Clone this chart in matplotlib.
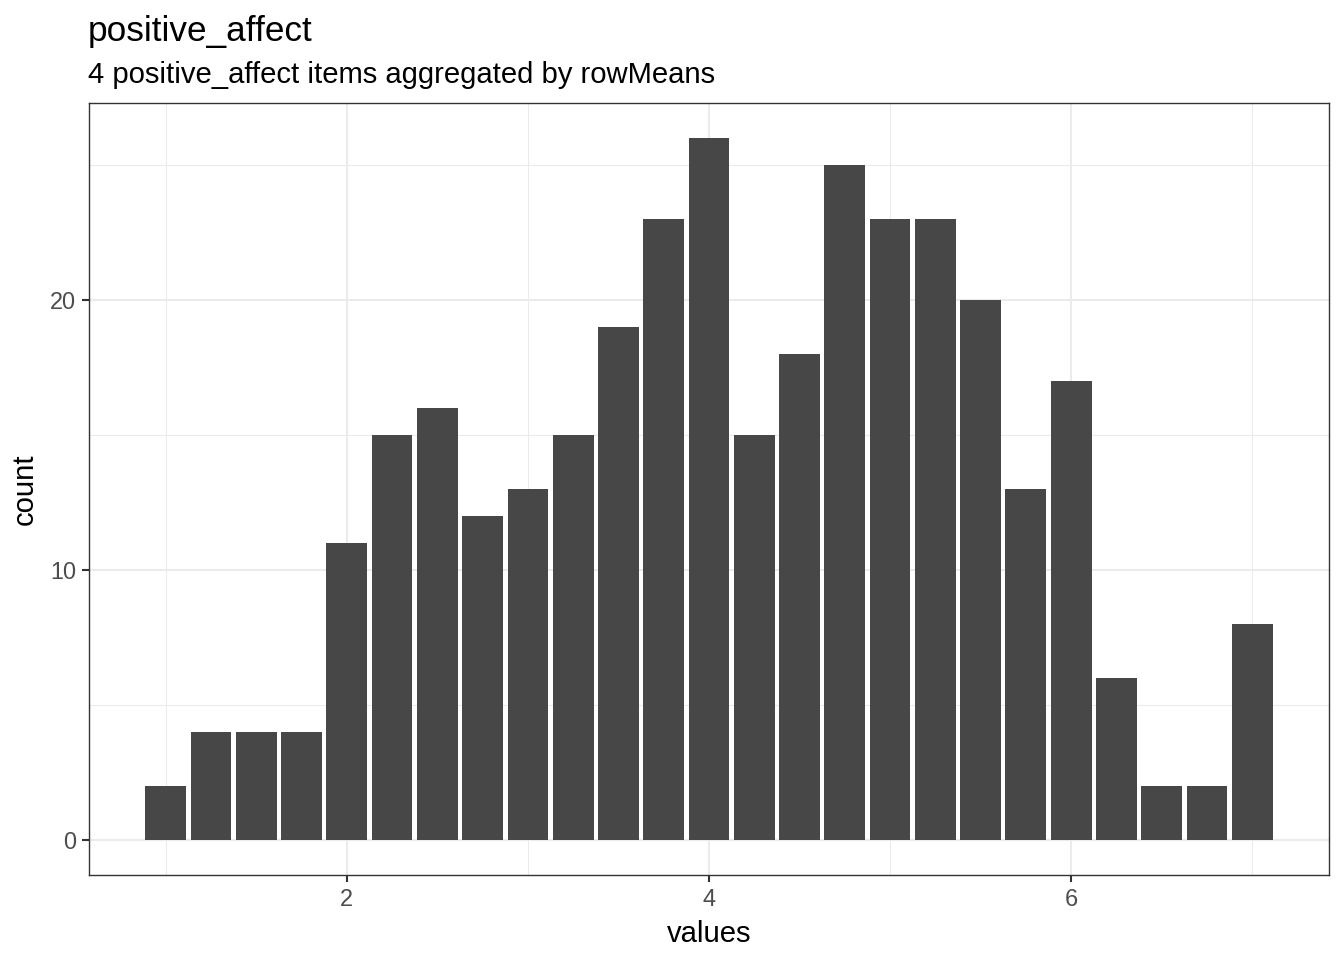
import matplotlib
matplotlib.use("Agg")
import matplotlib.pyplot as plt
from matplotlib.ticker import MultipleLocator

plt.rcParams['font.family'] = ['Liberation Sans', 'DejaVu Sans']

# rowMeans of 4 items -> steps of 0.25
values = [1.0, 1.25, 1.5, 1.75, 2.0, 2.25, 2.5, 2.75, 3.0, 3.25, 3.5, 3.75, 4.0,
          4.25, 4.5, 4.75, 5.0, 5.25, 5.5, 5.75, 6.0, 6.25, 6.5, 6.75, 7.0]
counts = [2, 4, 4, 4, 11, 15, 16, 12, 13, 15, 19, 23, 26,
          15, 18, 25, 23, 23, 20, 13, 17, 6, 2, 2, 8]

fig = plt.figure(figsize=(13.44, 9.6), dpi=100)
ax = fig.add_axes([0.0662, 0.0885, 0.9226, 0.8042])

ax.bar(values, counts, width=0.225, color='#474747', zorder=3)

# ggplot-style expansion
xmin, xmax = min(values) - 0.1125, max(values) + 0.1125
xr = xmax - xmin
ax.set_xlim(xmin - 0.05 * xr, xmax + 0.05 * xr)
ymax = max(counts)
ax.set_ylim(-0.05 * ymax, ymax * 1.05)

ax.xaxis.set_major_locator(MultipleLocator(2))
ax.xaxis.set_minor_locator(MultipleLocator(1))
ax.yaxis.set_major_locator(MultipleLocator(10))
ax.yaxis.set_minor_locator(MultipleLocator(5))

ax.grid(which='major', color='#EBEBEB', linewidth=1.5, zorder=0)
ax.grid(which='minor', color='#EBEBEB', linewidth=0.75, zorder=0)
ax.set_axisbelow(True)

for s in ax.spines.values():
    s.set_color('#333333')
    s.set_linewidth(1.0)

ax.tick_params(which='major', length=5.3, width=1.5, color='#333333',
               labelsize=16.9, labelcolor='#4D4D4D', pad=4.2)
ax.tick_params(which='minor', length=0)

ax.set_xlabel('values', fontsize=21.1, labelpad=6)
ax.set_ylabel('count', fontsize=21.1, labelpad=8)

fig.text(0.0655, 0.957, 'positive_affect', fontsize=25.3, ha='left', va='baseline')
fig.text(0.0655, 0.914, '4 positive_affect items aggregated by rowMeans',
         fontsize=21.1, ha='left', va='baseline')

fig.savefig('out.png', dpi=100)
